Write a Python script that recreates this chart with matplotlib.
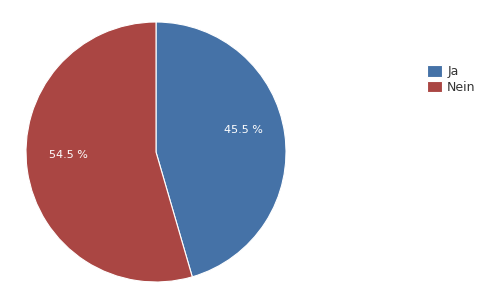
import matplotlib
matplotlib.use("Agg")
import matplotlib.pyplot as plt

labels = ["Ja", "Nein"]
values = [45.5, 54.5]
colors = ["#4572A7", "#AA4643"]

W, H = 498, 303
fig = plt.figure(figsize=(W / 100, H / 100), dpi=100)
ax = fig.add_axes([26 / W, 21 / H, 260 / W, 260 / H])

wedges, texts, autotexts = ax.pie(
    values, colors=colors, startangle=90, counterclock=False,
    autopct=lambda p: "%.1f %%" % p, pctdistance=0.68,
    wedgeprops=dict(edgecolor="white", linewidth=0.8),
    textprops=dict(color="white", fontsize=8))
# labels sit a little higher in the original
for t in autotexts:
    x, y = t.get_position()
    t.set_position((x, y + 0.07))
ax.set_xlim(-1, 1)
ax.set_ylim(-1, 1)
ax.set_aspect("equal")

fig.legend(wedges, labels, loc="upper left", bbox_to_anchor=(416 / W, 1 - 54 / H),
           frameon=False, fontsize=9, handlelength=1.2, handleheight=1.0,
           handletextpad=0.4, labelspacing=0.2, labelcolor="#333333")

fig.savefig("out.png", dpi=100)
